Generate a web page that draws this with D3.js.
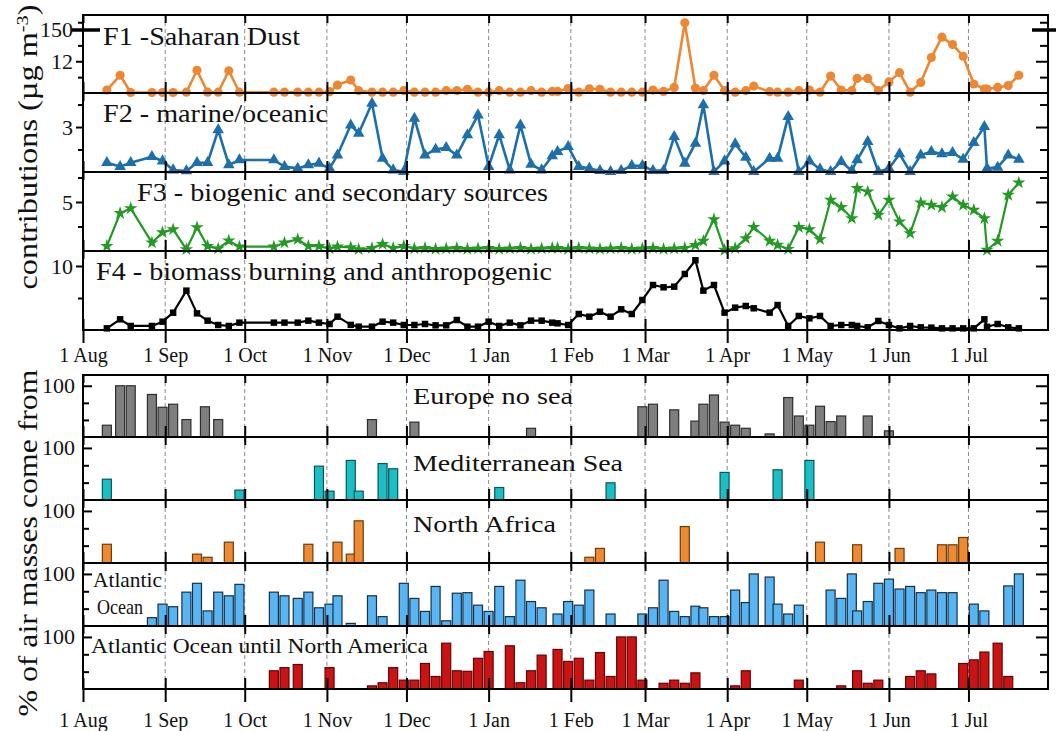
<!DOCTYPE html>
<html><head><meta charset="utf-8">
<script src="https://cdn.jsdelivr.net/npm/d3@7"></script>
<style>
body{margin:0;background:#fff}
svg{display:block}
text{font-family:"Liberation Serif","Times New Roman",serif;fill:#111}
</style>
</head><body>
<svg id="c" width="1056" height="731"></svg>
<script>
// ---------------- DATA ----------------
const sampleDates = ["2013-08-10","2013-08-15","2013-08-19","2013-08-27","2013-08-31","2013-09-04","2013-09-09","2013-09-13","2013-09-17","2013-09-21","2013-09-25","2013-09-29","2013-10-12","2013-10-16","2013-10-21","2013-10-25","2013-10-29","2013-11-02","2013-11-05","2013-11-10","2013-11-13","2013-11-18","2013-11-22","2013-11-26","2013-11-30","2013-12-04","2013-12-08","2013-12-12","2013-12-16","2013-12-20","2013-12-24","2013-12-28","2014-01-01","2014-01-05","2014-01-09","2014-01-13","2014-01-17","2014-01-21","2014-01-25","2014-01-27","2014-01-31","2014-02-04","2014-02-08","2014-02-12","2014-02-16","2014-02-20","2014-02-24","2014-02-28","2014-03-04","2014-03-08","2014-03-12","2014-03-16","2014-03-20","2014-03-23","2014-03-27","2014-03-31","2014-04-04","2014-04-08","2014-04-11","2014-04-17","2014-04-20","2014-04-24","2014-04-28","2014-05-02","2014-05-06","2014-05-10","2014-05-14","2014-05-18","2014-05-20","2014-05-24","2014-05-28","2014-06-01","2014-06-05","2014-06-09","2014-06-13","2014-06-17","2014-06-21","2014-06-25","2014-06-29","2014-07-03","2014-07-07","2014-07-08","2014-07-12","2014-07-16","2014-07-20"];

const f1SaharanDust = [1.1,6.7,0.2,0.2,0.2,0.2,0.3,8.6,0.3,0.3,8.4,0.3,0.3,0.3,0.3,0.3,0.3,0.5,3.0,4.9,0.9,0.3,0.3,0.3,0.9,0.3,0.3,0.3,0.9,0.9,1.4,0.3,0.3,0.9,0.3,0.3,0.9,0.3,0.6,0.6,1.7,0.3,1.6,1.4,0.3,0.3,0.3,0.3,1.1,0.6,2.1,173,1.9,0.9,6.7,0.9,0.3,0.9,2.6,0.5,0.3,0.3,0.9,1.1,0.3,6.4,1.1,0.9,5.5,5.5,0.9,4.2,7.7,0.3,4.0,13.4,21.1,18.3,13.9,3.4,1.5,1.5,2.1,2.8,6.7];

const f2Marine = [0.62,0.36,0.62,1.02,0.73,0.13,0.07,0.62,0.62,2.8,0.47,0.8,0.8,0.36,0.24,0.47,0.58,0.24,1.13,3.13,2.58,4.58,0.91,0.13,0.02,3.58,1.13,1.51,1.62,1.13,2.47,3.8,0.36,2.47,0.13,3.13,0.51,0.13,1.07,1.36,1.69,0.36,0.24,0.09,0.02,0.09,0.42,0.42,0.09,0.09,2.36,0.58,1.91,4.47,0.02,0.73,1.87,0.98,0.02,0.91,0.91,3.69,0.02,0.73,0.18,0.02,0.69,0.09,0.8,2.02,0.02,0.24,1.2,0.02,1.13,1.36,1.2,1.29,0.84,1.96,3.02,0.24,0.31,1.13,0.84];

const f3Biogenic = [0.5,3.85,4.35,0.85,1.9,2.2,0.17,2.4,0.5,0.24,1.05,0.44,0.44,0.85,1.19,0.5,0.5,0.24,0.44,0.37,0.17,0.3,0.7,0.3,0.5,0.25,0.3,0.2,0.25,0.3,0.2,0.25,0.3,0.2,0.25,0.3,0.2,0.25,0.3,0.3,0.2,0.3,0.25,0.2,0.25,0.3,0.2,0.25,0.3,0.2,0.25,0.3,0.6,1.02,3.23,0.1,0.27,1.29,2.42,1.02,0.61,0.2,2.42,2.21,1.19,5.2,4.46,3.33,6.4,6.05,3.67,5.2,2.99,1.8,4.93,4.69,4.46,5.54,4.69,4.18,3.33,0.1,1.02,5.71,6.97];

const f4Biomass = [0.26,1.67,0.63,0.63,1.3,2.7,6.15,2.6,1.46,0.78,0.63,1.15,1.15,1.15,1.15,1.46,1.15,0.94,2.08,0.8,0.52,0.52,1.3,1.15,0.78,0.78,0.94,0.73,0.73,1.56,0.52,0.52,1.3,0.63,1.15,0.73,1.46,1.46,1.15,1.04,0.78,2.5,2.08,2.86,2.08,3.23,2.5,4.69,7.03,6.67,6.77,8.75,10.9,6.15,7.03,2.71,3.49,3.75,3.39,2.71,3.9,0.63,2.19,1.82,2.19,0.63,0.78,0.78,0.63,0.42,1.41,0.78,0.26,0.63,0.42,0.37,0.26,0.26,0.26,0.26,1.67,0.5,0.94,0.42,0.26];

const monthTicks = ["2013-08-01","2013-09-01","2013-10-01","2013-11-01","2013-12-01","2014-01-01","2014-02-01","2014-03-01","2014-04-01","2014-05-01","2014-06-01","2014-07-01"];
const monthLabels = ["1 Aug","1 Sep","1 Oct","1 Nov","1 Dec","1 Jan","1 Feb","1 Mar","1 Apr","1 May","1 Jun","1 Jul"];

// % of air masses per sample day
const europeNoSea = [["2013-08-10",23],["2013-08-15",100],["2013-08-19",100],["2013-08-27",83],["2013-08-31",58],["2013-09-04",64],["2013-09-09",34],["2013-09-16",59],["2013-09-21",34],["2013-11-18",34],["2013-12-04",29],["2014-01-17",17],["2014-02-28",59],["2014-03-04",64],["2014-03-12",53],["2014-03-20",31],["2014-03-23",64],["2014-03-27",82],["2014-03-31",29],["2014-04-04",23],["2014-04-08",17],["2014-04-17",6],["2014-04-24",77],["2014-04-28",41],["2014-05-02",23],["2014-05-06",60],["2014-05-10",30],["2014-05-14",41],["2014-05-24",41],["2014-06-01",12]];

const mediterraneanSea = [["2013-08-10",40],["2013-09-29",19],["2013-10-29",65],["2013-11-02",17],["2013-11-10",76],["2013-11-13",17],["2013-11-22",70],["2013-11-26",60],["2014-01-05",24],["2014-02-16",33],["2014-03-31",53],["2014-04-20",58],["2014-05-02",76]];

const northAfrica = [["2013-08-10",36],["2013-09-13",17],["2013-09-17",11],["2013-09-25",40],["2013-10-25",36],["2013-11-05",40],["2013-11-10",17],["2013-11-13",81],["2014-02-08",11],["2014-02-12",28],["2014-03-16",70],["2014-05-06",40],["2014-05-20",35],["2014-06-05",28],["2014-06-21",35],["2014-06-25",35],["2014-06-29",49]];

const atlanticOcean = [["2013-08-27",16],["2013-08-31",42],["2013-09-04",37],["2013-09-09",65],["2013-09-13",82],["2013-09-17",29],["2013-09-21",65],["2013-09-25",58],["2013-09-29",80],["2013-10-12",65],["2013-10-16",58],["2013-10-21",53],["2013-10-25",65],["2013-10-29",35],["2013-11-02",42],["2013-11-05",58],["2013-11-10",5],["2013-11-18",58],["2013-11-22",18],["2013-11-30",82],["2013-12-04",53],["2013-12-08",28],["2013-12-12",76],["2013-12-16",10],["2013-12-20",63],["2013-12-24",64],["2013-12-28",40],["2014-01-01",28],["2014-01-05",76],["2014-01-09",18],["2014-01-13",88],["2014-01-17",47],["2014-01-21",35],["2014-01-27",23],["2014-01-31",47],["2014-02-04",40],["2014-02-08",69],["2014-02-16",23],["2014-02-28",23],["2014-03-04",35],["2014-03-08",88],["2014-03-12",28],["2014-03-16",18],["2014-03-20",38],["2014-03-23",35],["2014-03-27",18],["2014-03-31",18],["2014-04-04",69],["2014-04-08",45],["2014-04-11",100],["2014-04-17",94],["2014-04-20",42],["2014-04-24",23],["2014-04-28",40],["2014-05-10",69],["2014-05-14",53],["2014-05-18",100],["2014-05-20",29],["2014-05-24",47],["2014-05-28",82],["2014-06-01",90],["2014-06-05",71],["2014-06-09",76],["2014-06-13",64],["2014-06-17",69],["2014-06-21",64],["2014-06-25",64],["2014-07-03",42],["2014-07-07",29],["2014-07-16",77],["2014-07-20",100]];

const atlanticToNorthAmerica = [["2013-10-12",35],["2013-10-16",41],["2013-10-21",47],["2013-11-02",41],["2013-11-18",6],["2013-11-22",12],["2013-11-26",41],["2013-11-30",17],["2013-12-04",17],["2013-12-08",49],["2013-12-12",24],["2013-12-16",88],["2013-12-20",35],["2013-12-24",34],["2013-12-28",59],["2014-01-01",72],["2014-01-09",83],["2014-01-13",12],["2014-01-17",35],["2014-01-21",65],["2014-01-27",76],["2014-01-31",53],["2014-02-04",59],["2014-02-08",17],["2014-02-12",70],["2014-02-16",24],["2014-02-20",100],["2014-02-24",100],["2014-02-28",17],["2014-03-08",11],["2014-03-12",17],["2014-03-16",11],["2014-03-20",31],["2014-04-04",6],["2014-04-08",35],["2014-04-28",17],["2014-05-14",6],["2014-05-20",35],["2014-05-24",11],["2014-05-28",17],["2014-06-09",24],["2014-06-13",35],["2014-06-17",29],["2014-06-29",49],["2014-07-03",56],["2014-07-07",71],["2014-07-12",88],["2014-07-16",24]];

// ---------------- LAYOUT ----------------
const parse = d3.timeParse("%Y-%m-%d");
const svg = d3.select("#c");
const L = 83, R = 1048;
const x = d3.scaleTime().domain([parse("2013-08-01"), parse("2014-07-31")]).range([L, R]);
const months = monthTicks.map(parse);
const FONT = '"Liberation Serif","Times New Roman",serif';

const gGrid = svg.append("g");
const gText = svg.append("g");
const gData = svg.append("g");
const gAx = svg.append("g");

function grid(top, bottom) {
  gGrid.append("g").selectAll("line").data(months.slice(1)).join("line")
    .attr("x1", d => x(d)).attr("x2", d => x(d))
    .attr("y1", top).attr("y2", bottom)
    .attr("stroke", "#8a8a8a").attr("stroke-width", 1).attr("stroke-dasharray", "4,3");
}
function styleAxis(g) {
  g.select(".domain").remove();
  g.selectAll(".tick line").attr("stroke", "#000").attr("stroke-width", 2);
  g.selectAll("text").attr("font-family", FONT).attr("fill", "#111");
}
function monthAxis(y, top) {
  const ax = top ? d3.axisTop(x).tickSize(-8) : d3.axisBottom(x).tickSize(-11);
  gAx.append("g").attr("transform", `translate(0,${y})`)
    .call(ax.tickValues(months).tickFormat("")).call(styleAxis);
}
function yAxes(scale, majors, labels, minors, outward) {
  const left = d3.axisLeft(scale).tickValues(majors).tickFormat((d, i) => labels[i])
    .tickSize(outward ? 7 : -9).tickPadding(outward ? 3 : 8);
  gAx.append("g").attr("transform", `translate(${L},0)`).call(left).call(styleAxis)
    .selectAll("text").attr("font-size", 22);
  gAx.append("g").attr("transform", `translate(${L},0)`)
    .call(d3.axisLeft(scale).tickValues(minors).tickFormat("").tickSize(outward ? 5 : -6)).call(styleAxis);
  gAx.append("g").attr("transform", `translate(${R},0)`)
    .call(d3.axisRight(scale).tickValues(majors).tickFormat("").tickSize(-12)).call(styleAxis);
  gAx.append("g").attr("transform", `translate(${R},0)`)
    .call(d3.axisRight(scale).tickValues(minors).tickFormat("").tickSize(-8)).call(styleAxis);
}
function title(txt, tx, ty, size, len) {
  gText.append("text").attr("x", tx).attr("y", ty).attr("font-size", size)
    .attr("textLength", len).attr("lengthAdjust", "spacingAndGlyphs").text(txt);
}

// ---------------- TOP: factor contributions ----------------
const topRows = [15, 93, 172, 251, 330];
const yF = [
  d3.scaleLinear().domain([0, 24, 150, 200]).range([93, 29.5, 29.5, 15]),
  d3.scaleLinear().domain([0, 5.27]).range([172, 93]),
  d3.scaleLinear().domain([0, 8.06]).range([251, 172]),
  d3.scaleLinear().domain([0, 12.34]).range([330, 251])
];
const factors = [
  {values: f1SaharanDust, color: "#ec8834", sym: d3.symbolCircle, size: 66, lw: 2.6,
   name: "F1 -Saharan Dust", tx: 103, ty: 45, tl: 197,
   majors: [12, 150], labels: ["12", "150"], minors: [6, 18, 175]},
  {values: f2Marine, color: "#1c6fab", sym: d3.symbolTriangle, size: 58, lw: 2.6,
   name: "F2 - marine/oceanic", tx: 103, ty: 122, tl: 225,
   majors: [3], labels: ["3"], minors: [1.5, 4.5]},
  {values: f3Biogenic, color: "#239a23", sym: d3.symbolStar, size: 55, lw: 2.2,
   name: "F3 - biogenic and secondary sources", tx: 137, ty: 201, tl: 411,
   majors: [5], labels: ["5"], minors: [2.5, 7.5]},
  {values: f4Biomass, color: "#000000", sym: d3.symbolSquare, size: 42, lw: 2.2,
   name: "F4 - biomass burning and anthropogenic", tx: 96, ty: 280, tl: 456,
   majors: [10], labels: ["10"], minors: [5]}
];
grid(topRows[0], topRows[4]);
factors.forEach((f, k) => {
  const y = yF[k];
  const pts = sampleDates.map((d, i) => [parse(d), f.values[i]]);
  gData.append("path").datum(pts)
    .attr("d", d3.line().x(d => x(d[0])).y(d => y(d[1])))
    .attr("fill", "none").attr("stroke", f.color).attr("stroke-width", f.lw).attr("stroke-linejoin", "round");
  gData.append("g").selectAll("path").data(pts).join("path")
    .attr("transform", d => `translate(${x(d[0])},${y(d[1])})`)
    .attr("d", d3.symbol(f.sym, f.size)).attr("fill", f.color);
  title(f.name, f.tx, f.ty, 25, f.tl);
  yAxes(y, f.majors, f.labels, f.minors, true);
  monthAxis(topRows[k], true);
  monthAxis(topRows[k + 1], false);
});
// break marks on F1 axis
[[72, 100], [1032, 1056]].forEach(([a, b]) => {
  gAx.append("line").attr("x1", a).attr("x2", b).attr("y1", 30).attr("y2", 30)
    .attr("stroke", "#000").attr("stroke-width", 3.5);
});
// frame
gAx.append("rect").attr("x", L).attr("y", topRows[0]).attr("width", R - L).attr("height", topRows[4] - topRows[0])
  .attr("fill", "none").attr("stroke", "#000").attr("stroke-width", 2);
topRows.slice(1, 4).forEach(yy => gAx.append("line").attr("x1", L).attr("x2", R).attr("y1", yy).attr("y2", yy)
  .attr("stroke", "#000").attr("stroke-width", 2));
gAx.append("g").attr("transform", `translate(0,${topRows[4]})`)
  .call(d3.axisBottom(x).tickValues(months).tickSize(13).tickPadding(5).tickFormat((d, i) => monthLabels[i]))
  .call(styleAxis).selectAll("text").attr("font-size", 20);

// ---------------- BOTTOM: air mass origin ----------------
const botRows = [375, 437, 500, 563, 626, 689];
const airMasses = [
  {data: europeNoSea, fill: "#7f7f7f", stroke: "#2e2e2e"},
  {data: mediterraneanSea, fill: "#1bbec4", stroke: "#0b5659"},
  {data: northAfrica, fill: "#ee8a32", stroke: "#6d3a0c"},
  {data: atlanticOcean, fill: "#58b5f1", stroke: "#163049"},
  {data: atlanticToNorthAmerica, fill: "#c81414", stroke: "#6a0000"}
];
const dayPx = (R - L) / 364;
const barW = 3.4 * dayPx;
grid(botRows[0], botRows[5]);
airMasses.forEach((m, k) => {
  const top = botRows[k], bottom = botRows[k + 1];
  const y = d3.scaleLinear().domain([0, 121]).range([bottom, top]);
  gData.append("g").selectAll("rect").data(m.data).join("rect")
    .attr("x", d => x(parse(d[0])) - barW / 2).attr("width", barW)
    .attr("y", d => y(d[1])).attr("height", d => bottom - y(d[1]))
    .attr("fill", m.fill).attr("stroke", m.stroke).attr("stroke-width", 1.2);
  yAxes(y, [100], ["100"], [100 / 3, 200 / 3], false);
  monthAxis(top, true);
  monthAxis(bottom, false);
});
title("Europe no sea", 413, 404, 24, 160);
title("Mediterranean Sea", 413, 471, 24, 210);
title("North Africa", 413, 532, 24, 143);
title("Atlantic", 93, 587, 21, 69);
title("Ocean", 97, 614, 21, 46);
title("Atlantic Ocean until North America", 91, 653, 21, 337);
gAx.append("rect").attr("x", L).attr("y", botRows[0]).attr("width", R - L).attr("height", botRows[5] - botRows[0])
  .attr("fill", "none").attr("stroke", "#000").attr("stroke-width", 2);
botRows.slice(1, 5).forEach(yy => gAx.append("line").attr("x1", L).attr("x2", R).attr("y1", yy).attr("y2", yy)
  .attr("stroke", "#000").attr("stroke-width", 2));
gAx.append("g").attr("transform", `translate(0,${botRows[5]})`)
  .call(d3.axisBottom(x).tickValues(months).tickSize(13).tickPadding(11).tickFormat((d, i) => monthLabels[i]))
  .call(styleAxis).selectAll("text").attr("font-size", 20);

// ---------------- axis titles ----------------
const t1 = svg.append("text").attr("transform", "translate(37,147) rotate(-90)")
  .attr("text-anchor", "middle").attr("font-size", 27)
  .attr("textLength", 285).attr("lengthAdjust", "spacingAndGlyphs");
t1.append("tspan").text("contributions (µg m");
t1.append("tspan").attr("baseline-shift", "super").attr("font-size", 17).text("-3");
t1.append("tspan").text(")");
svg.append("text").attr("transform", "translate(37,543) rotate(-90)")
  .attr("text-anchor", "middle").attr("font-size", 27)
  .attr("textLength", 347).attr("lengthAdjust", "spacingAndGlyphs")
  .text("% of air masses come from");
</script>
</body></html>
